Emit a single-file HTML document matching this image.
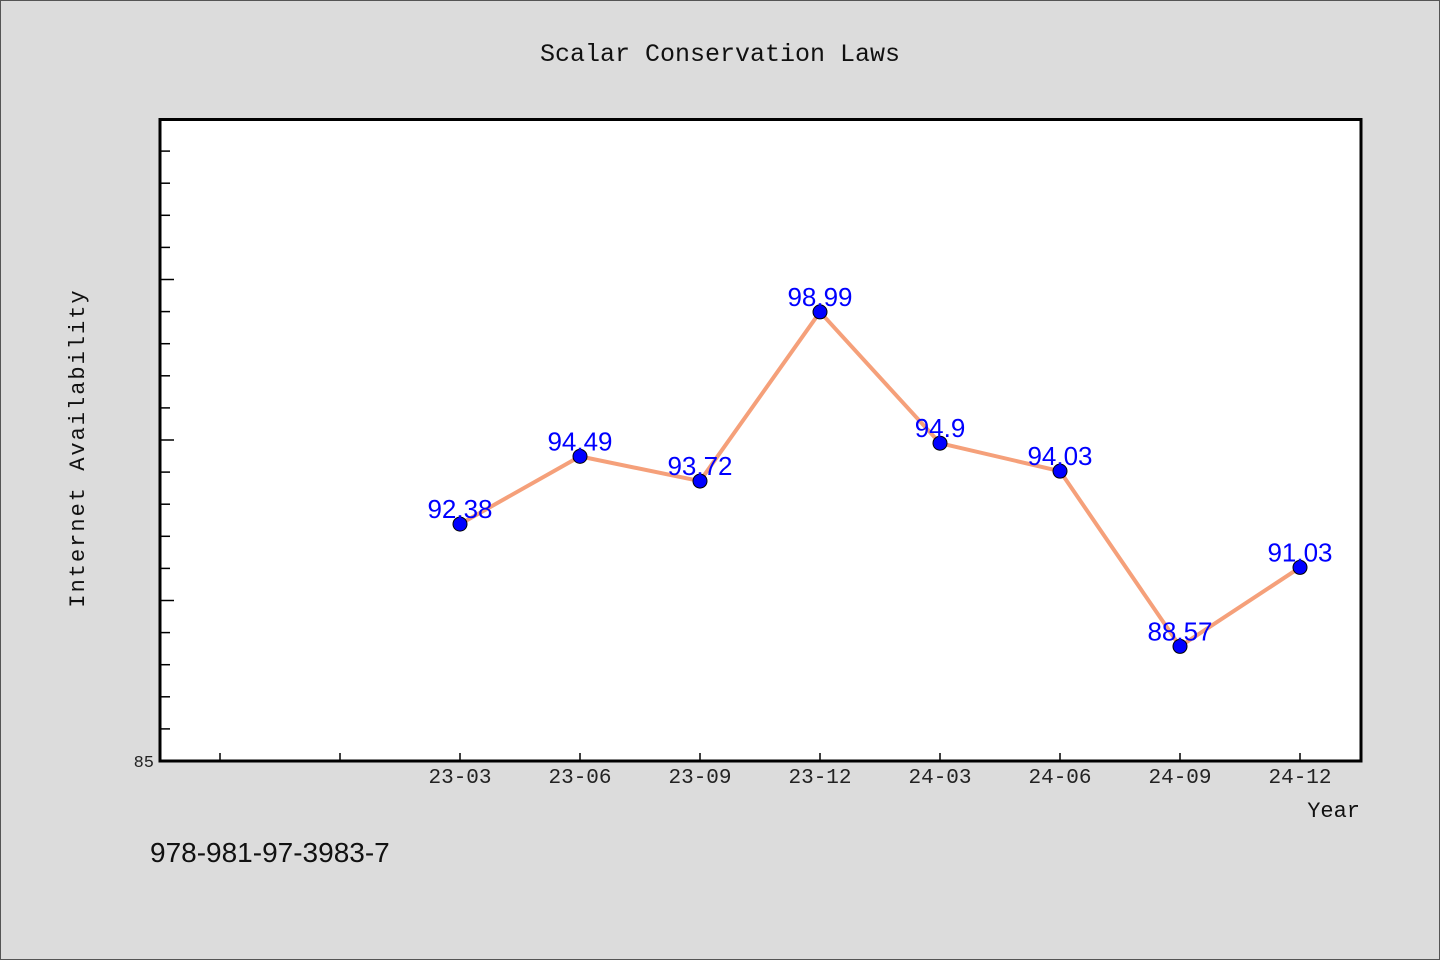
<!DOCTYPE html>
<html><head><meta charset="utf-8">
<style>
html,body{margin:0;padding:0;background:#dcdcdc;}
body{width:1440px;height:960px;overflow:hidden;position:relative;}
svg{position:absolute;left:0;top:0;}
text{font-family:"Liberation Mono","DejaVu Sans Mono",monospace;}
</style></head>
<body>
<svg id="chart" width="1440" height="960" xmlns="http://www.w3.org/2000/svg">
<rect x="0.5" y="0.5" width="1439" height="959" fill="#dcdcdc" stroke="#555" stroke-width="1"/>
<text x="720" y="61" font-size="25" text-anchor="middle" fill="#111">Scalar Conservation Laws</text>
<rect x="160" y="119" width="1201" height="642" fill="#fff"/>
<g id="ticks"></g>
<g id="series"></g>
<rect x="160" y="119.5" width="1201" height="641.5" fill="none" stroke="#000" stroke-width="3"/>
<text transform="translate(84,448) rotate(-90)" font-size="22" text-anchor="middle" fill="#111" letter-spacing="2">Internet Availability</text>
<text x="1360" y="817" font-size="22" text-anchor="end" fill="#111">Year</text>
<text x="150" y="862" font-size="28" fill="#111" style="font-family:'Liberation Sans',sans-serif">978-981-97-3983-7</text>
</svg>
<script>
const categories = ["23-03","23-06","23-09","23-12","24-03","24-06","24-09","24-12"];
const values = [92.38, 94.49, 93.72, 98.99, 94.9, 94.03, 88.57, 91.03];
const valueLabels = ["92.38","94.49","93.72","98.99","94.9","94.03","88.57","91.03"];
const yTickLabels = ["85"];

const NS = "http://www.w3.org/2000/svg";
const X0 = 160, X1 = 1360, Y0 = 761, Y1 = 119;
const xMin = -2.5, xMax = 7.5, yMin = 85, yMax = 105;
function xScale(i){ return X0 + (i - xMin) / (xMax - xMin) * (X1 - X0); }
function yScale(v){ return Y0 - (v - yMin) / (yMax - yMin) * (Y0 - Y1); }
function mk(tag, attrs){ const e = document.createElementNS(NS, tag); for (const k in attrs) e.setAttribute(k, attrs[k]); return e; }

const ticks = document.getElementById('ticks');
for (let v = yMin + 1; v < yMax; v++) {
  const y = yScale(v);
  const len = (v % 5 === 0) ? 13 : 9;
  const t = mk('line', {x1: 161, x2: 161 + len, y1: y, y2: y, stroke: '#000', 'stroke-width': 1.5});
  
  
  ticks.appendChild(t);
}
yTickLabels.forEach(function(lbl){
  const t = mk('text', {x: 154, y: yScale(parseFloat(lbl)) + 6, 'font-size': 17, 'text-anchor': 'end', fill: '#222'});
  
  
  t.textContent = lbl;
  ticks.appendChild(t);
});
for (let i = -2; i < categories.length; i++) {
  const x = xScale(i);
  const t = mk('line', {x1: x, x2: x, y1: 760, y2: 753, stroke: '#000', 'stroke-width': 1.5});
  
  
  ticks.appendChild(t);
}
categories.forEach(function(c, i){
  const t = mk('text', {x: xScale(i), y: 783, 'font-size': 21, 'text-anchor': 'middle', fill: '#222'});
  
  
  t.textContent = c;
  ticks.appendChild(t);
});

const series = document.getElementById('series');
const pts = values.map(function(v, i){ return xScale(i) + ',' + yScale(v); }).join(' ');
const line = mk('polyline', {points: pts, fill: 'none', stroke: '#f5a07a', 'stroke-width': 4, 'stroke-linejoin': 'round'});


series.appendChild(line);
values.forEach(function(v, i){
  const c = mk('circle', {cx: xScale(i), cy: yScale(v), r: 7, fill: '#0000ff', stroke: '#000', 'stroke-width': 1});
  
  
  series.appendChild(c);
});
values.forEach(function(v, i){
  const t = mk('text', {x: xScale(i), y: yScale(v) - 6, 'font-size': 26, 'text-anchor': 'middle', fill: '#0000ff', style: "font-family:'Liberation Sans',sans-serif"});
  
  
  t.textContent = valueLabels[i];
  series.appendChild(t);
});
</script>
</body></html>
